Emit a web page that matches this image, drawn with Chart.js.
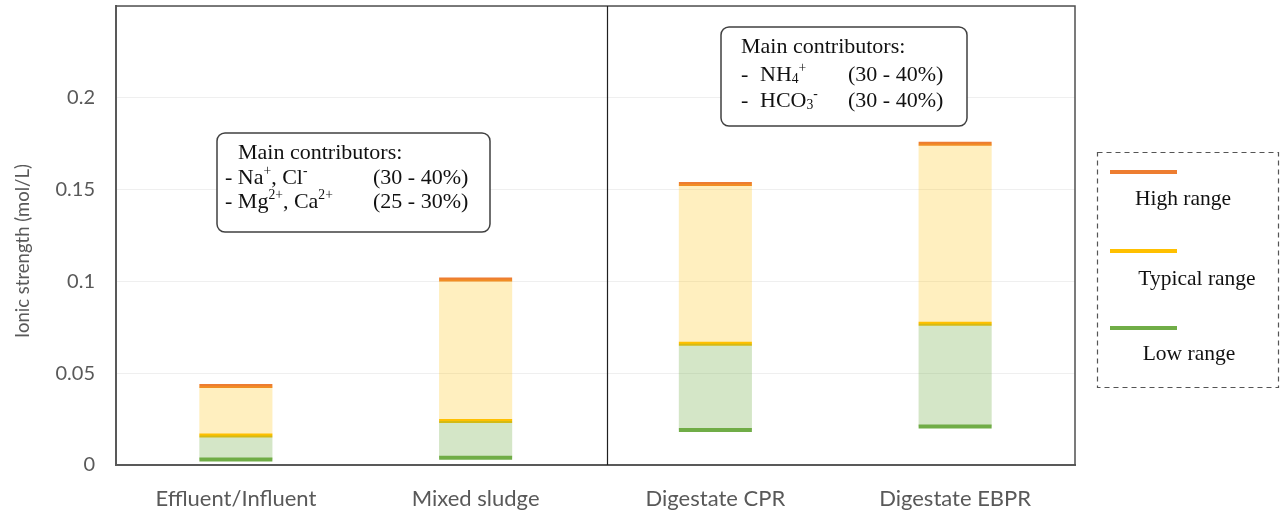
<!doctype html>
<html lang="en">
  <head>
    <meta charset="UTF-8">
    <title>Ionic strength</title>
    <style>
      body { margin:0; background:#fff; }
      #wrap { width:1280px; height:510px; }
    </style>
  </head>
  <body>
    <div id="wrap"><canvas id="ionic-chart"></canvas></div>

    <script src="https://cdnjs.cloudflare.com/ajax/libs/Chart.js/4.4.1/chart.umd.js"></script>
    <script>
      // values (mol/L)
      var categories = ["Effluent/Influent", "Mixed sludge", "Digestate CPR", "Digestate EBPR"];
      var lowRange     = [0.003, 0.004, 0.019, 0.021];
      var typicalRange = [0.016, 0.024, 0.066, 0.077];
      var highRange    = [0.043, 0.101, 0.153, 0.175];
      var yTicks = [0, 0.05, 0.1, 0.15, 0.2];

      var ORANGE = '#ED7D31', YELLOW = '#FFC000', GREEN = '#70AD47';
      var GREY = '#595959';
      var serif = '"Liberation Serif", "Times New Roman", serif';
      var sans = 'Lato, "Open Sans", sans-serif';

      // draws text with super/subscripts, parts = [[text, 'n'|'sup'|'sub'], ...]
      function drawRich(ctx, x, y, parts, size) {
        ctx.textBaseline = 'middle';
        ctx.textAlign = 'left';
        parts.forEach(function(p) {
          var s = size, dy = 0;
          if (p[1] == 'sup') { s = size * 0.62; dy = -size * 0.3; }
          if (p[1] == 'sub') { s = size * 0.62; dy = size * 0.22; }
          ctx.font = s + 'px ' + serif;
          ctx.fillText(p[0], x, y + dy);
          x += ctx.measureText(p[0]).width;
        });
      }

      function roundBox(ctx, x, y, w, h, r) {
        ctx.beginPath();
        ctx.moveTo(x + r, y);
        ctx.arcTo(x + w, y, x + w, y + h, r);
        ctx.arcTo(x + w, y + h, x, y + h, r);
        ctx.arcTo(x, y + h, x, y, r);
        ctx.arcTo(x, y, x + w, y, r);
        ctx.closePath();
        ctx.fillStyle = '#fff';
        ctx.fill();
        ctx.lineWidth = 1.5;
        ctx.strokeStyle = '#404040';
        ctx.stroke();
      }

      var extras = {
        id: 'extras',
        afterDatasetsDraw: function(chart) {
          var ctx = chart.ctx, a = chart.chartArea, xs = chart.scales.x;
          ctx.save();
          // frame
          ctx.strokeStyle = '#505050';
          ctx.lineWidth = 1.5;
          ctx.beginPath();
          ctx.moveTo(a.left, a.top); ctx.lineTo(a.right, a.top); ctx.lineTo(a.right, a.bottom);
          ctx.stroke();
          // divider between raw sludge and digestates
          var dx = Math.round(xs.getPixelForValue(1.546)) + 0.5;
          ctx.strokeStyle = '#202020';
          ctx.lineWidth = 1.2;
          ctx.beginPath(); ctx.moveTo(dx, a.top); ctx.lineTo(dx, a.bottom); ctx.stroke();

          // y axis title (sits a bit below centre in the original)
          ctx.save();
          ctx.translate(23, 251);
          ctx.rotate(-Math.PI / 2);
          ctx.fillStyle = GREY;
          ctx.font = '18.5px ' + sans;
          ctx.textAlign = 'center';
          ctx.textBaseline = 'middle';
          ctx.fillText('Ionic strength (mol/L)', 0, 0);
          ctx.restore();

          // annotation boxes
          var fs = 22;
          roundBox(ctx, 217, 133, 273, 99, 8);
          ctx.fillStyle = '#111';
          drawRich(ctx, 238, 153, [['Main contributors:', 'n']], fs);
          drawRich(ctx, 225, 178, [['- Na', 'n'], ['+', 'sup'], [', Cl', 'n'], ['-', 'sup']], fs);
          drawRich(ctx, 373, 178, [['(30 - 40%)', 'n']], fs);
          drawRich(ctx, 225, 202, [['- Mg', 'n'], ['2+', 'sup'], [', Ca', 'n'], ['2+', 'sup']], fs);
          drawRich(ctx, 373, 202, [['(25 - 30%)', 'n']], fs);

          roundBox(ctx, 721, 27, 246, 99, 8);
          ctx.fillStyle = '#111';
          drawRich(ctx, 741, 47, [['Main contributors:', 'n']], fs);
          drawRich(ctx, 741, 75, [['-', 'n']], fs);
          drawRich(ctx, 760, 75, [['NH', 'n'], ['4', 'sub'], ['+', 'sup']], fs);
          drawRich(ctx, 848, 75, [['(30 - 40%)', 'n']], fs);
          drawRich(ctx, 741, 101, [['-', 'n']], fs);
          drawRich(ctx, 760, 101, [['HCO', 'n'], ['3', 'sub'], ['-', 'sup']], fs);
          drawRich(ctx, 848, 101, [['(30 - 40%)', 'n']], fs);

          // legend
          ctx.setLineDash([5, 4]);
          ctx.strokeStyle = '#555';
          ctx.lineWidth = 1.2;
          ctx.strokeRect(1097.5, 152.5, 181, 235);
          ctx.setLineDash([]);
          var leg = [[ORANGE, 172, 'High range', 1183, 199],
                     [YELLOW, 251, 'Typical range', 1197, 279],
                     [GREEN, 328, 'Low range', 1189, 354]];
          leg.forEach(function(l) {
            ctx.strokeStyle = l[0];
            ctx.lineWidth = 4;
            ctx.beginPath(); ctx.moveTo(1110, l[1]); ctx.lineTo(1177, l[1]); ctx.stroke();
            ctx.fillStyle = '#111';
            ctx.font = '21.5px ' + serif;
            ctx.textAlign = 'center';
            ctx.textBaseline = 'middle';
            ctx.fillText(l[2], l[3], l[4]);
          });
          ctx.restore();
        }
      };

      function pairs(a, b) { return a.map(function(v, i) { return [v, b[i]]; }); }
      function levelLine(vals, color) {
        return {
          type: 'line', data: vals, showLine: false,
          pointStyle: 'line', pointRadius: 36.5, pointHoverRadius: 36.5,
          pointBorderWidth: 4, pointHoverBorderWidth: 4,
          pointBorderColor: color, pointBackgroundColor: color, borderColor: color
        };
      }

      var ionic_chart = new Chart(document.getElementById('ionic-chart'), {
        type: 'bar',
        data: {
          labels: categories,
          datasets: [
            { data: pairs(lowRange, typicalRange), backgroundColor: 'rgba(112,173,71,0.3)', borderWidth: 0 },
            { data: pairs(typicalRange, highRange), backgroundColor: 'rgba(255,192,0,0.25)', borderWidth: 0 },
            levelLine(lowRange, GREEN),
            levelLine(typicalRange, YELLOW),
            levelLine(highRange, ORANGE)
          ]
        },
        options: {
          responsive: true,
          maintainAspectRatio: false,
          animation: false,
          devicePixelRatio: 1,
          events: [],
          layout: { autoPadding: false, padding: { top: 6, right: 205, left: 0, bottom: 0 } },
          datasets: { bar: { grouped: false, barPercentage: 0.305, categoryPercentage: 1 } },
          scales: {
            x: {
              grid: { display: false },
              border: { color: GREY, width: 2 },
              ticks: { color: GREY, font: { family: sans, size: 22 }, padding: 13, maxRotation: 0 },
              afterFit: function(s) { s.height = 45; s.paddingLeft = 0; s.paddingRight = 0; }
            },
            y: {
              min: 0, max: 0.25,
              afterBuildTicks: function(s) {
                s.ticks = yTicks.concat([0.25]).map(function(v) { return { value: v }; });
              },
              ticks: {
                color: GREY, font: { family: sans, size: 20 }, padding: 21,
                callback: function(v) { return v > 0.24 ? '' : String(Number(v.toFixed(2))); }
              },
              grid: { color: '#efefef', lineWidth: 1, drawTicks: false },
              border: { color: GREY, width: 2 },
              afterFit: function(s) { s.width = 116; s.paddingTop = 0; s.paddingBottom = 0; }
            }
          },
          plugins: { legend: { display: false }, tooltip: { enabled: false } }
        },
        plugins: [extras]
      });
    </script>
  </body>
</html>
